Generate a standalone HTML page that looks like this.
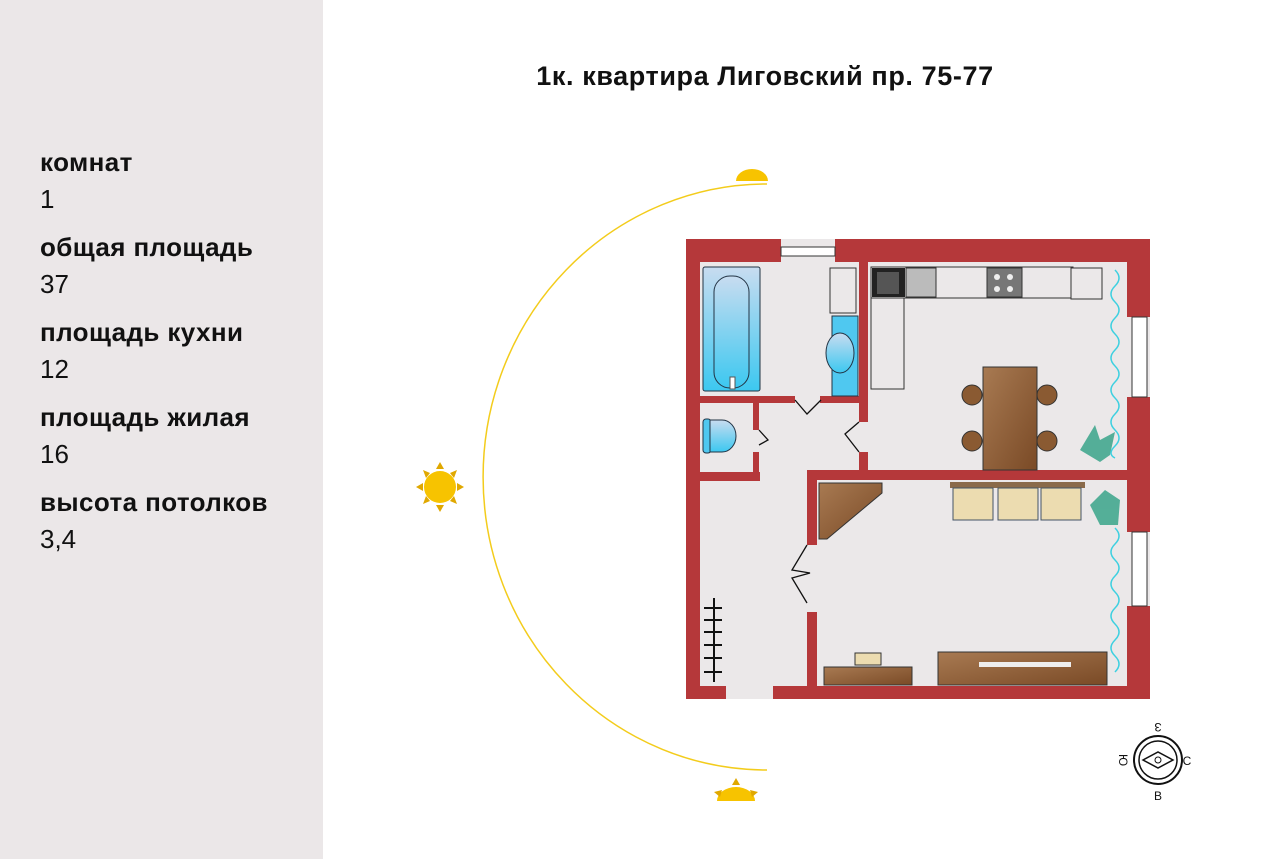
<!DOCTYPE html>
<html><head><meta charset="utf-8"><style>
body{margin:0;width:1280px;height:859px;background:#fff;position:relative;overflow:hidden;font-family:"Liberation Sans",sans-serif}
#side{position:absolute;left:0;top:0;width:323px;height:859px;background:#ebe7e8}
.l{position:absolute;left:40px;font-size:26px;color:#111}
.b{font-weight:bold;letter-spacing:0.4px}
h1{position:absolute;left:0;width:1530px;top:61px;margin:0;text-align:center;font-size:27px;font-weight:bold;color:#111;letter-spacing:0.6px}
svg{position:absolute;left:0;top:0}
</style></head><body>
<div id="side"></div>
<div class="l b" style="top:147px">комнат</div>
<div class="l" style="top:184px">1</div>
<div class="l b" style="top:232px">общая площадь</div>
<div class="l" style="top:269px">37</div>
<div class="l b" style="top:317px">площадь кухни</div>
<div class="l" style="top:354px">12</div>
<div class="l b" style="top:402px">площадь жилая</div>
<div class="l" style="top:439px">16</div>
<div class="l b" style="top:487px">высота потолков</div>
<div class="l" style="top:524px">3,4</div>
<h1>1к. квартира Лиговский пр. 75-77</h1>
<svg width="1280" height="859" viewBox="0 0 1280 859">
<defs>
<linearGradient id="bl" x1="0" y1="0" x2="0" y2="1"><stop offset="0" stop-color="#c8dcf0"/><stop offset="1" stop-color="#3cc8f0"/></linearGradient>
<linearGradient id="br" x1="0" y1="0" x2="1" y2="1"><stop offset="0" stop-color="#a87a52"/><stop offset="1" stop-color="#7a4a26"/></linearGradient>
</defs>
<path d="M767 184 A284 293 0 0 0 767 770" fill="none" stroke="#f3cc1c" stroke-width="1.5"/>
<path d="M736 181 A16 12 0 0 1 768 181 Z" fill="#f7c300"/>
<circle cx="440" cy="487" r="16" fill="#f7c300"/>
<g fill="#e0a800"><polygon points="440,462 436,469 444,469"/><polygon points="440,512 436,505 444,505"/><polygon points="416,487 423,483 423,491"/><polygon points="464,487 457,483 457,491"/><polygon points="423,470 430,473 426,478"/><polygon points="457,470 450,473 454,478"/><polygon points="423,504 430,501 426,496"/><polygon points="457,504 450,501 454,496"/></g>
<path d="M717 801 A19 14 0 0 1 755 801 Z" fill="#f7c300"/>
<g fill="#e0a800"><polygon points="736,778 732,785 740,785"/><polygon points="714,792 722,790 720,797"/><polygon points="758,792 750,790 752,797"/></g>
<rect x="686" y="239" width="464" height="460" fill="#ebe8e9"/>
<g fill="#b5383a">
<rect x="686" y="239" width="95" height="23"/><rect x="835" y="239" width="315" height="23"/>
<rect x="686" y="239" width="14" height="460"/>
<rect x="686" y="686" width="40" height="13"/><rect x="773" y="686" width="377" height="13"/>
<rect x="1127" y="239" width="23" height="78"/><rect x="1127" y="397" width="23" height="135"/><rect x="1127" y="606" width="23" height="93"/>
<rect x="859" y="262" width="9" height="160"/><rect x="859" y="452" width="9" height="22"/>
<rect x="807" y="470" width="320" height="10"/>
<rect x="686" y="472" width="74" height="9"/>
<rect x="700" y="396" width="95" height="7"/><rect x="820" y="396" width="39" height="7"/>
<rect x="753" y="403" width="6" height="27"/><rect x="753" y="452" width="6" height="28"/>
<rect x="807" y="470" width="10" height="75"/><rect x="807" y="612" width="10" height="74"/>
</g>
<rect x="781" y="247" width="54" height="9" fill="#fff" stroke="#333" stroke-width="1"/>
<rect x="1132" y="317" width="15" height="80" fill="#fff" stroke="#333"/>
<rect x="1132" y="532" width="15" height="74" fill="#fff" stroke="#333"/>
<rect x="703" y="267" width="57" height="124" rx="2" fill="url(#bl)" stroke="#234" stroke-width="1"/>
<rect x="714" y="276" width="35" height="112" rx="16" fill="url(#bl)" stroke="#234"/>
<rect x="730" y="377" width="5" height="12" fill="#fff" stroke="#555"/>
<rect x="830" y="268" width="26" height="45" fill="#ebe8e9" stroke="#333"/>
<rect x="832" y="316" width="26" height="80" fill="#4fc8f0" stroke="#234"/>
<ellipse cx="840" cy="353" rx="14" ry="20" fill="url(#bl)" stroke="#234"/>
<rect x="703" y="419" width="8" height="34" rx="3" fill="#4fc8f0" stroke="#234"/>
<path d="M710 420 h12 a14 16 0 0 1 0 32 h-12 z" fill="url(#bl)" stroke="#234"/>
<g fill="none" stroke="#111" stroke-width="1.3">
<path d="M795 400 l12 14 l14 -14"/><path d="M759 430 l9 10 l-9 5"/>
<path d="M859 422 l-14 12 l14 18"/>
<path d="M807 545 l-15 25 l18 3 l-18 5 l15 25"/>
</g>
<rect x="871" y="268" width="33" height="121" fill="#ebe8e9" stroke="#333"/>
<rect x="871" y="267" width="202" height="31" fill="#ebe8e9" stroke="#333"/>
<rect x="872" y="268" width="33" height="29" fill="#222"/><rect x="877" y="272" width="22" height="22" fill="#555"/>
<rect x="906" y="268" width="30" height="29" fill="#bbb" stroke="#333"/>
<rect x="987" y="268" width="35" height="29" fill="#777" stroke="#333"/>
<g fill="#eee"><circle cx="997" cy="277" r="3"/><circle cx="1010" cy="277" r="3"/><circle cx="997" cy="289" r="3"/><circle cx="1010" cy="289" r="3"/></g>
<rect x="1071" y="268" width="31" height="31" fill="#ebe8e9" stroke="#333"/>
<rect x="983" y="367" width="54" height="103" fill="url(#br)" stroke="#333"/>
<g fill="#8a5a32" stroke="#333"><circle cx="972" cy="395" r="10"/><circle cx="972" cy="441" r="10"/><circle cx="1047" cy="395" r="10"/><circle cx="1047" cy="441" r="10"/></g>
<g fill="#3aa58a" opacity=".85"><polygon points="1080,450 1095,425 1100,440 1115,432 1110,455 1100,462"/><polygon points="1090,505 1105,490 1120,500 1118,525 1100,525"/></g>
<path d="M1115 270 q8 8 0 16 q-8 8 0 16 q8 8 0 16 q-8 8 0 16 q8 8 0 16 q-8 8 0 16 q8 8 0 16 q-8 8 0 16 q8 8 0 16 q-8 8 0 16 q8 8 0 16 q-8 8 0 12" fill="none" stroke="#3ed0e0" stroke-width="1.5"/>
<path d="M1115 528 q8 8 0 16 q-8 8 0 16 q8 8 0 16 q-8 8 0 16 q8 8 0 16 q-8 8 0 16 q8 8 0 16 q-8 8 0 16 q8 8 0 16" fill="none" stroke="#3ed0e0" stroke-width="1.5"/>
<path d="M819 483 h63 v10 l-55 46 h-8 z" fill="url(#br)" stroke="#333"/>
<rect x="950" y="482" width="135" height="6" fill="#8a6a4a"/>
<g fill="#ecdcb0" stroke="#456"><rect x="953" y="488" width="40" height="32"/><rect x="998" y="488" width="40" height="32"/><rect x="1041" y="488" width="40" height="32"/></g>
<rect x="824" y="667" width="88" height="18" fill="url(#br)" stroke="#333"/>
<rect x="855" y="653" width="26" height="12" fill="#ecdcb0" stroke="#333"/>
<rect x="938" y="652" width="169" height="33" fill="url(#br)" stroke="#333"/>
<rect x="979" y="662" width="92" height="5" fill="#eee"/>
<g stroke="#111" stroke-width="2"><line x1="714" y1="598" x2="714" y2="682"/><line x1="704" y1="608" x2="722" y2="608"/><line x1="704" y1="620" x2="722" y2="620"/><line x1="704" y1="632" x2="722" y2="632"/><line x1="704" y1="645" x2="722" y2="645"/><line x1="704" y1="658" x2="722" y2="658"/><line x1="704" y1="672" x2="722" y2="672"/></g>
<circle cx="1158" cy="760" r="24" fill="none" stroke="#111" stroke-width="2"/>
<circle cx="1158" cy="760" r="19" fill="none" stroke="#111" stroke-width="1.5"/>
<path d="M1143 760 l15 -8 l15 8 l-15 8 z" fill="none" stroke="#111" stroke-width="1.5"/>
<circle cx="1158" cy="760" r="3" fill="none" stroke="#111"/>
<g font-size="12" fill="#111" text-anchor="middle"><text x="1158" y="731" transform="rotate(180 1158 727)">З</text><text x="1187" y="765">С</text><text x="1158" y="800">В</text><text x="1124" y="765" transform="rotate(90 1124 760)">Ю</text></g>
</svg>
</body></html>
